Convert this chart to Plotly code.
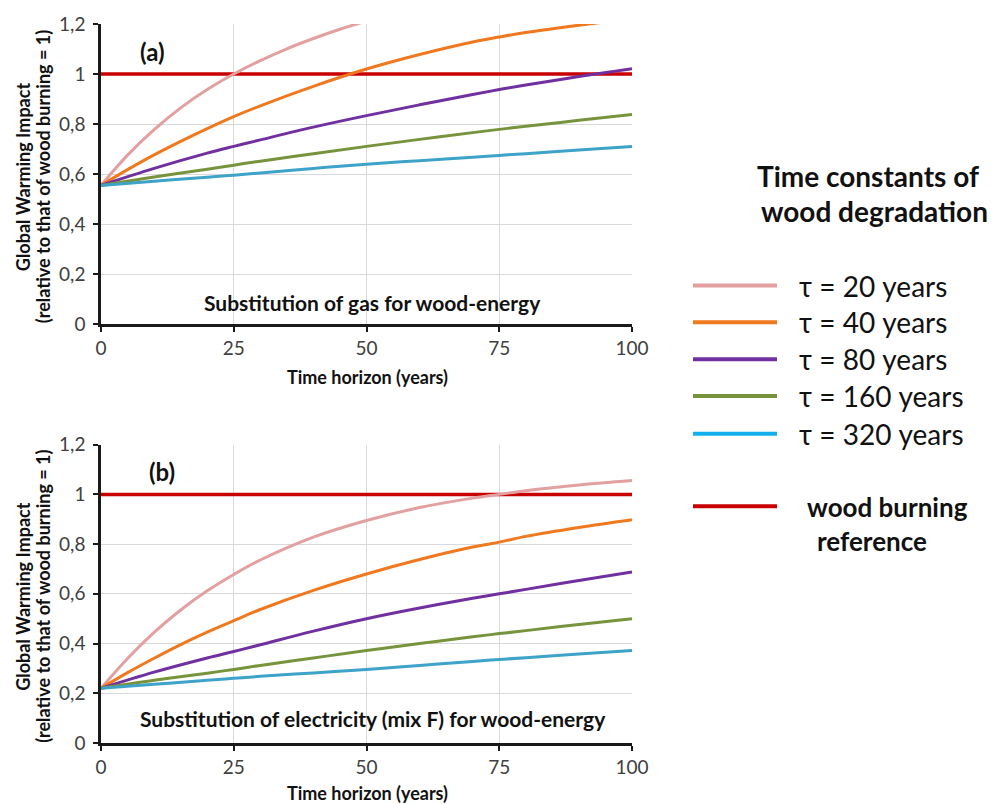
import plotly.graph_objects as go

# ---------------- data ----------------
# Panel (a): substitution of gas for wood-energy
a_t20_x = [0, 5, 10, 15, 20, 25, 30, 35, 40, 45, 50]
a_t20_y = [0.555, 0.676, 0.778, 0.865, 0.938, 1.0, 1.054, 1.101, 1.142, 1.179, 1.212]
a_t40_x = [0, 5, 10, 15, 20, 25, 30, 40, 50, 60, 70, 75, 80, 90, 100]
a_t40_y = [0.555, 0.618, 0.677, 0.731, 0.782, 0.83, 0.873, 0.951, 1.02, 1.078, 1.128, 1.148, 1.166, 1.195, 1.222]
a_t80_x = [0, 10, 20, 25, 30, 40, 50, 60, 70, 75, 80, 90, 100]
a_t80_y = [0.555, 0.623, 0.684, 0.711, 0.737, 0.788, 0.834, 0.877, 0.918, 0.938, 0.956, 0.99, 1.021]
a_t160_x = [0, 10, 20, 25, 30, 40, 50, 60, 70, 75, 80, 90, 100]
a_t160_y = [0.555, 0.589, 0.62, 0.636, 0.652, 0.682, 0.711, 0.739, 0.766, 0.779, 0.791, 0.815, 0.838]
a_t320_x = [0, 10, 20, 25, 30, 40, 50, 60, 70, 75, 80, 90, 100]
a_t320_y = [0.555, 0.572, 0.588, 0.596, 0.605, 0.623, 0.64, 0.654, 0.668, 0.675, 0.682, 0.697, 0.711]

# Panel (b): substitution of electricity (mix F) for wood-energy
b_t20_x = [0, 5, 10, 15, 20, 25, 30, 40, 50, 60, 70, 75, 80, 90, 100]
b_t20_y = [0.22, 0.34, 0.445, 0.535, 0.612, 0.678, 0.736, 0.828, 0.895, 0.947, 0.985, 1.0, 1.015, 1.038, 1.056]
b_t40_x = [0, 5, 10, 15, 20, 25, 30, 40, 50, 60, 70, 75, 80, 90, 100]
b_t40_y = [0.22, 0.283, 0.341, 0.396, 0.446, 0.492, 0.537, 0.614, 0.68, 0.738, 0.788, 0.808, 0.831, 0.867, 0.898]
b_t80_x = [0, 10, 20, 25, 30, 40, 50, 60, 70, 75, 80, 90, 100]
b_t80_y = [0.22, 0.285, 0.342, 0.368, 0.395, 0.45, 0.50, 0.543, 0.582, 0.60, 0.618, 0.654, 0.688]
b_t160_x = [0, 10, 20, 25, 30, 40, 50, 60, 70, 75, 80, 90, 100]
b_t160_y = [0.22, 0.252, 0.281, 0.296, 0.312, 0.342, 0.372, 0.40, 0.427, 0.44, 0.452, 0.477, 0.50]
b_t320_x = [0, 10, 20, 25, 30, 40, 50, 60, 70, 75, 80, 90, 100]
b_t320_y = [0.22, 0.236, 0.252, 0.26, 0.268, 0.282, 0.296, 0.312, 0.328, 0.336, 0.343, 0.358, 0.372]

ref_x = [0, 100]
ref_y = [1, 1]

series_names = ["τ = 20 years", "τ = 40 years", "τ = 80 years", "τ = 160 years", "τ = 320 years"]
ref_name = "wood burning reference"

x_tickvals = [0, 25, 50, 75, 100]
x_ticktext = ["0", "25", "50", "75", "100"]
y_tickvals = [0, 0.2, 0.4, 0.6, 0.8, 1.0, 1.2]
y_ticktext = ["0", "0,2", "0,4", "0,6", "0,8", "1", "1,2"]

# ---------------- styling ----------------
line_colors = ["#E3A0A0", "#F0781E", "#7030A0", "#77933C", "#3DA3C8"]
legend_colors = ["#E3A0A0", "#F0781E", "#7030A0", "#77933C", "#12B0EE"]
ref_color = "#C80000"
FONT = "Lato"

W, H = 992, 804
ML, MR, MT, MB = 101, 360, 20, 61
PW, PH = W - ML - MR, H - MT - MB


def px(x):
    return (x - ML) / PW


def py(y):
    return (H - MB - y) / PH


fig = go.Figure()

panel_a = [(a_t20_x, a_t20_y), (a_t40_x, a_t40_y), (a_t80_x, a_t80_y),
           (a_t160_x, a_t160_y), (a_t320_x, a_t320_y)]
panel_b = [(b_t20_x, b_t20_y), (b_t40_x, b_t40_y), (b_t80_x, b_t80_y),
           (b_t160_x, b_t160_y), (b_t320_x, b_t320_y)]

for axes, data in (("a", panel_a), ("b", panel_b)):
    xa, ya = ("x", "y") if axes == "a" else ("x2", "y2")
    fig.add_trace(go.Scatter(x=ref_x, y=ref_y, mode="lines", name=ref_name,
                             line=dict(color=ref_color, width=3.5),
                             xaxis=xa, yaxis=ya, showlegend=False))
    for i, (xs, ys) in enumerate(data):
        fig.add_trace(go.Scatter(x=xs, y=ys, mode="lines", name=series_names[i],
                                 line=dict(color=line_colors[i], width=3, shape="spline", smoothing=1.0),
                                 xaxis=xa, yaxis=ya, showlegend=False))

top_dom = [py(322), py(20)]
bot_dom = [py(743), py(443)]

xax = dict(range=[0, 100], tickvals=x_tickvals, ticktext=x_ticktext,
           showgrid=True, gridcolor="#D9D9D9", gridwidth=1,
           showline=True, linecolor="#1a1a1a", linewidth=2.5,
           ticks="outside", ticklen=5, tickwidth=2, tickcolor="#1a1a1a",
           tickfont=dict(family=FONT, size=19, color="#404040"),
           zeroline=False, domain=[0, 1])
yax = dict(range=[0, 1.2], tickvals=y_tickvals, ticktext=y_ticktext,
           showgrid=True, gridcolor="#D9D9D9", gridwidth=1,
           showline=True, linecolor="#1a1a1a", linewidth=2.5,
           ticks="outside", ticklen=5, tickwidth=2, tickcolor="#1a1a1a",
           tickfont=dict(family=FONT, size=19, color="#404040"),
           ticklabelstandoff=4,
           zeroline=False)

fig.update_layout(
    width=W, height=H,
    margin=dict(l=ML, r=MR, t=MT, b=MB),
    paper_bgcolor="white", plot_bgcolor="white",
    font=dict(family=FONT, color="#111111"),
    showlegend=False,
    xaxis=dict(xax, anchor="y"),
    yaxis=dict(yax, anchor="x", domain=top_dom),
    xaxis2=dict(xax, anchor="y2"),
    yaxis2=dict(yax, anchor="x2", domain=bot_dom),
)

ann = []
# panel labels
ann.append(dict(x=px(152), y=py(48), text="<b>(a)</b>", font=dict(size=24)))
ann.append(dict(x=px(162), y=py(470), text="<b>(b)</b>", font=dict(size=24)))
# panel subtitles
ann.append(dict(x=px(372), y=py(300), text="<b>Substitution of gas for wood-energy</b>", font=dict(size=21)))
ann.append(dict(x=px(373), y=py(718), text="<b>Substitution of electricity (mix F) for wood-energy</b>", font=dict(size=21)))
# x axis titles
ann.append(dict(x=px(367), y=py(375), text="<b>Time horizon (years)</b>", font=dict(size=18)))
ann.append(dict(x=px(367), y=py(793), text="<b>Time horizon (years)</b>", font=dict(size=18)))
# y axis titles (two lines each)
ytitle1 = "<b>Global Warming Impact</b>"
ytitle2 = "<b>(relative to that of wood burning = 1)</b>"
for cy in (174, 596):
    ann.append(dict(x=px(23), y=py(cy), text=ytitle1, textangle=-90, font=dict(size=18)))
    ann.append(dict(x=px(43), y=py(cy), text=ytitle2, textangle=-90, font=dict(size=18)))
# legend title
ann.append(dict(x=px(868), y=py(173), text="<b>Time constants of</b>", font=dict(size=28)))
ann.append(dict(x=px(874), y=py(208), text="<b>wood degradation</b>", font=dict(size=28)))

shapes = []
leg_y = [283, 320, 357, 394, 432]
for i, yy in enumerate(leg_y):
    shapes.append(dict(type="line", xref="paper", yref="paper",
                       x0=px(693), x1=px(777), y0=py(yy), y1=py(yy),
                       line=dict(color=legend_colors[i], width=4)))
    ann.append(dict(x=px(797), y=py(yy), text=series_names[i], xanchor="left",
                    font=dict(size=28, color="#111111")))
shapes.append(dict(type="line", xref="paper", yref="paper",
                   x0=px(693), x1=px(777), y0=py(505), y1=py(505),
                   line=dict(color=ref_color, width=4)))
ann.append(dict(x=px(887), y=py(506), text="<b>wood burning</b>", font=dict(size=26)))
ann.append(dict(x=px(872), y=py(540), text="<b>reference</b>", font=dict(size=26)))

for a in ann:
    a.setdefault("xref", "paper")
    a.setdefault("yref", "paper")
    a.setdefault("showarrow", False)
    a.setdefault("xanchor", "center")
    a.setdefault("yanchor", "middle")
    f = a.setdefault("font", {})
    f.setdefault("family", FONT)
    f.setdefault("color", "#111111")

fig.update_layout(annotations=ann, shapes=shapes)

fig.write_html("out.html", config={"displayModeBar": False},
               post_script="document.body.style.margin='0';")
